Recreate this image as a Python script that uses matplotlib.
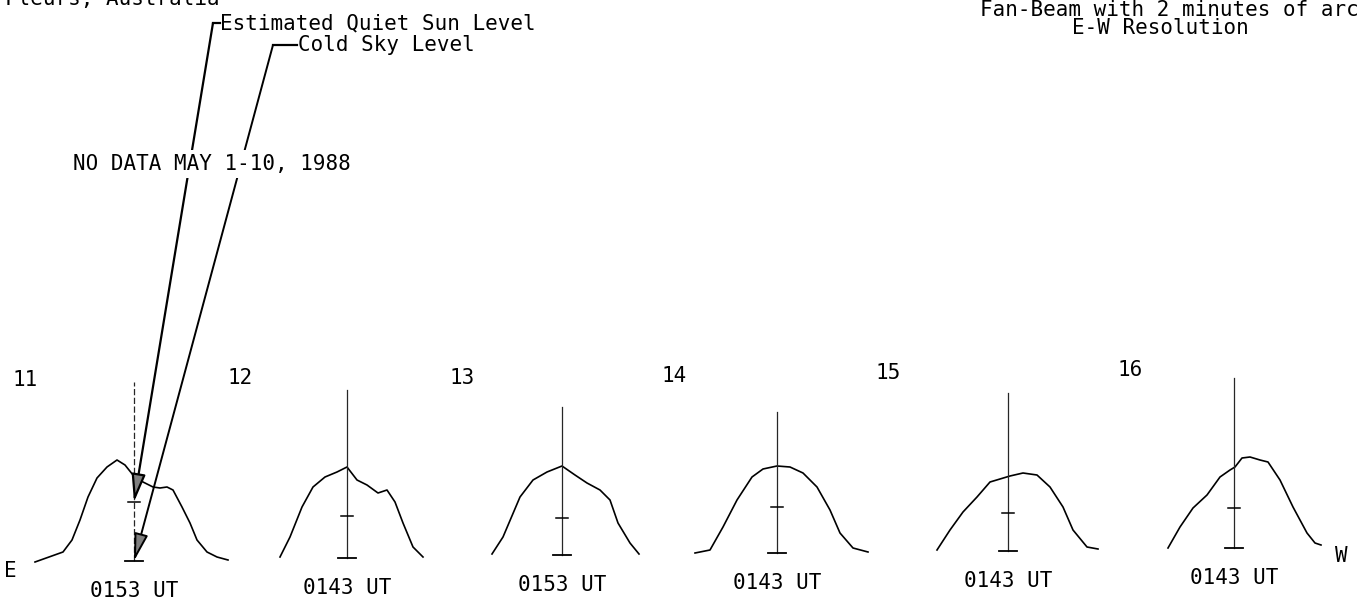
import matplotlib
matplotlib.use("Agg")
import matplotlib.pyplot as plt

plt.rcParams["font.family"] = "DejaVu Sans Mono"

# drift scans: offset from disc centre and level above cold sky (plot units)
days = ["11", "12", "13", "14", "15", "16"]
scan_times = ["0153 UT", "0143 UT", "0153 UT", "0143 UT", "0143 UT", "0143 UT"]
quiet_sun = [59, 42, 37, 46, 38, 40]

x11 = [-99, -71, -62, -54, -46, -37, -27, -17, -9, -1, 9, 19, 26, 33, 39, 48, 56, 63, 73, 83, 94]
y11 = [-1, 9, 21, 41, 64, 83, 94, 101, 96, 86, 79, 74, 73, 74, 71, 54, 38, 21, 9, 4, 1]

x12 = [-67, -57, -45, -34, -22, -10, 0, 10, 20, 31, 40, 48, 56, 66, 76]
y12 = [1, 21, 51, 71, 81, 86, 91, 78, 73, 65, 68, 56, 35, 11, 1]

x13 = [-70, -59, -42, -29, -15, 0, 13, 25, 38, 48, 56, 68, 77]
y13 = [1, 18, 58, 75, 83, 89, 80, 72, 65, 55, 32, 12, 1]

x14 = [-82, -67, -54, -40, -25, -14, 0, 13, 26, 40, 53, 63, 76, 91]
y14 = [0, 3, 26, 53, 76, 84, 87, 86, 80, 66, 43, 20, 5, 1]

x15 = [-71, -58, -45, -31, -18, -8, 2, 15, 29, 42, 55, 65, 79, 90]
y15 = [1, 21, 39, 54, 69, 72, 75, 78, 76, 64, 44, 21, 4, 2]

x16 = [-66, -54, -41, -27, -14, -4, 1, 8, 16, 26, 34, 46, 59, 73, 81, 87]
y16 = [0, 21, 40, 53, 71, 78, 81, 90, 91, 88, 86, 68, 41, 15, 5, 3]

scans = [(x11, y11), (x12, y12), (x13, y13), (x14, y14), (x15, y15), (x16, y16)]

# layout, in pixels from the top-left corner
W, H = 1363, 613
centres = [134, 347, 562, 777, 1008, 1234]
baselines = [561, 558, 555, 553, 551, 548]
mast_len = [179, 168, 148, 141, 158, 170]
day_pos = [(25, 380), (240, 378), (462, 378), (674, 376), (888, 373), (1130, 370)]
FS = 15

fig = plt.figure(figsize=(W / 100, H / 100), dpi=100)
base = fig.add_axes([0, 0, 1, 1])
base.set_xlim(0, W)
base.set_ylim(0, H)
base.axis("off")


def put(x, y, s, **kw):
    return base.text(x, H - y, s, fontsize=FS, color="black", **kw)


panels = []
for i, (xs, ys) in enumerate(scans):
    cx, cy = centres[i], baselines[i]
    ax = base.inset_axes([cx - 115, H - cy - 15, 230, 250], transform=base.transData)
    ax.set_xlim(-115, 115)
    ax.set_ylim(-15, 235)
    ax.axis("off")
    ax.plot(xs, ys, color="black", lw=1.2)
    ls = (0, (5, 2)) if i == 0 else "-"
    ax.plot([0, 0], [0, mast_len[i]], color="0.15", lw=0.9, ls=ls)
    ax.plot([-9, 9], [0, 0], color="black", lw=1.3)
    ax.plot([-6, 6], [quiet_sun[i], quiet_sun[i]], color="black", lw=1.1)
    panels.append(ax)

    put(day_pos[i][0], day_pos[i][1], days[i], ha="center", va="center")
    put(cx, cy + 30, scan_times[i], ha="center", va="center")

put(10, 571, "E", ha="center", va="center")
put(1341, 556, "W", ha="center", va="center")

# header text; the site line runs off the top edge
put(5, 5, "Fleurs, Australia", ha="left", va="baseline")
put(1359, 10, "Fan-Beam with 2 minutes of arc", ha="right", va="center")
put(1160, 28, "E-W Resolution", ha="center", va="center")
put(220, 23, "Estimated Quiet Sun Level", ha="left", va="center")
put(298, 45, "Cold Sky Level", ha="left", va="center")
put(73, 164, "NO DATA MAY 1-10, 1988", ha="left", va="center", zorder=12,
    bbox=dict(facecolor="white", edgecolor="none", pad=3))

# leader lines pointing at the two reference levels on the first scan
ax11 = panels[0]
base.plot([220, 213], [H - 23, H - 23], color="black", lw=1.6, zorder=10)
base.plot([297, 273], [H - 45, H - 45], color="black", lw=1.6, zorder=10)
head = "-|>,head_length=1.2,head_width=0.3"
base.annotate("", xy=(0, quiet_sun[0]), xycoords=ax11.transData,
              xytext=(213, H - 23), textcoords=base.transData, zorder=10,
              arrowprops=dict(arrowstyle=head, color="black", fc="0.5",
                              lw=1.6, shrinkA=0, shrinkB=0, mutation_scale=14))
base.annotate("", xy=(0, 0), xycoords=ax11.transData,
              xytext=(273, H - 45), textcoords=base.transData, zorder=10,
              arrowprops=dict(arrowstyle=head, color="black", fc="0.5",
                              lw=1.4, shrinkA=0, shrinkB=0, mutation_scale=14))

fig.savefig("out.png", dpi=100)
